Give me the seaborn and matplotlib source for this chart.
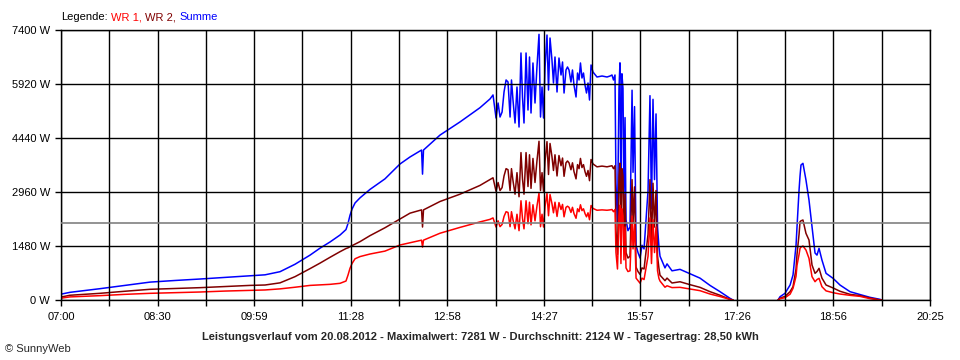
import numpy as np
import pandas as pd
import matplotlib
matplotlib.use("Agg")
import matplotlib.pyplot as plt
import seaborn as sns

# time in minutes after 07:00
minutes = [0, 8.3, 36.1, 59.3, 82.4, 105.6, 128.8, 151.9, 175.1, 189.0, 202.9, 216.8,
           230.7, 239.9, 249.2, 258.5, 264.0, 265.9, 267.7, 269.6, 272.4, 277.0, 286.2,
           300.1, 314.0, 323.3, 334.0, 334.9, 335.8, 351.1, 369.6, 388.1, 397.4, 400.2,
           403.0, 404.9, 406.7, 408.6, 410.4, 412.3, 414.1, 416.0, 417.3, 418.7, 420.6,
           422.4, 424.3, 426.1, 427.5, 428.9, 430.8, 432.6, 434.0, 435.4, 437.2, 439.1,
           440.9, 442.8, 444.2, 445.6, 447.0, 448.4, 450.2, 451.6, 453.0, 454.8, 456.2,
           457.6, 459.5, 461.3, 463.2, 464.6, 466.0, 467.8, 469.2, 470.6, 472.4, 473.8,
           475.2, 477.1, 478.5, 479.9, 481.2, 482.6, 484.0, 485.4, 486.8, 488.2, 489.6,
           491.0, 492.8, 496.5, 501.2, 505.8, 508.6, 510.4, 511.8, 513.2,
           514.1, 515.5, 516.9, 517.8, 518.7, 519.6, 520.6, 521.5, 522.5, 523.4, 525.2,
           527.1, 529.0, 529.9, 531.3, 532.7, 534.5, 536.4, 538.2, 540.1, 541.9, 543.8,
           545.6, 547.0, 548.4, 549.8, 551.2, 552.6, 553.9, 554.9, 559.5, 561.4, 566.0,
           573.4, 582.7, 591.9, 601.2, 610.5, 619.7, 622.5,
           664.2, 666.1, 670.7, 675.4, 678.1, 680.9, 681.8, 683.7, 684.6, 685.5, 687.3,
           690.1, 692.9, 695.7, 698.5, 700.3, 702.2, 704.9, 708.7, 715.2, 721.6, 730.9,
           740.1, 749.4, 758.7, 760.5]

summe = [160, 210, 310, 400, 490, 535, 575, 620, 666, 690, 776, 980,
         1230, 1420, 1590, 1781, 1930, 2100, 2320, 2490, 2660, 2800, 3030,
         3320, 3727, 3920, 4110, 3450, 4110, 4520, 4880, 5270, 5510, 5620,
         4988, 5399, 5015, 5152, 5701, 6030, 5975, 5015, 6030, 5481, 4851,
         5838, 4741, 6770, 5564, 4851, 6770, 5207, 6660, 5125, 6496, 5399,
         6386, 7281, 5015, 5838, 4988, 6386, 7262, 5755, 7180, 6578, 5947,
         6660, 5701, 6632, 6167, 6523, 5673, 6304, 6386, 6304, 5975, 6304,
         5893, 5564, 6221, 6030, 6496, 6084, 6221, 5893, 5673, 5947, 5481,
         6441, 6249, 6112, 6139, 6112, 6139, 6167, 6030, 6167,
         3200, 2100, 5800, 6500, 2500, 6200, 5800, 2700, 5000, 2200, 1900,
         2000, 5750, 3500, 5300, 1500, 1300, 1150, 1500, 1400, 2200, 3000,
         5600, 2500, 5500, 3300, 5100, 2000, 1460, 1200, 880, 990, 800,
         840, 720, 600, 400, 228, 46, 0,
         0, 91, 183, 411, 685, 1500, 2000, 3015, 3400, 3700, 3746,
         3289, 2741, 2010, 1288, 1230, 1416, 1096, 731, 594, 411, 228,
         150, 73, 18, 0]

wr2 = [80, 130, 183, 240, 293, 315, 338, 370, 400, 411, 470, 640,
       860, 1010, 1170, 1325, 1410, 1430, 1461, 1490, 1530, 1600, 1763,
       1980, 2220, 2380, 2470, 2000, 2470, 2700, 2900, 3140, 3300, 3350,
       2980, 3220, 3000, 3080, 3400, 3600, 3570, 3000, 3600, 3270, 2900,
       3490, 2830, 4040, 3320, 2900, 4040, 3110, 3980, 3060, 3880, 3220,
       3810, 4350, 3000, 3490, 2980, 3810, 4340, 3440, 4290, 3930, 3550,
       3980, 3400, 3960, 3680, 3890, 3390, 3760, 3810, 3760, 3570, 3760,
       3520, 3320, 3710, 3600, 3880, 3630, 3710, 3520, 3390, 3550, 3270,
       3850, 3730, 3650, 3670, 3650, 3670, 3680, 3600, 3680,
       1900, 1250, 3400, 3750, 1500, 3600, 3400, 1600, 2900, 1300, 1150,
       1200, 3300, 2100, 3100, 900, 780, 700, 880, 850, 1300, 1800,
       3300, 1500, 3200, 2000, 3000, 1200, 870, 680, 530, 600, 466,
       500, 420, 347, 228, 130, 20, 0,
       0, 50, 100, 230, 365, 850, 1250, 1800, 2147, 2170, 2193,
       1827, 1644, 959, 731, 780, 868, 600, 411, 330, 240, 155,
       120, 55, 0, 0]

wr1 = [50, 85, 119, 155, 183, 200, 219, 245, 265, 275, 305, 350,
       400, 415, 429, 457, 520, 685, 868, 1000, 1130, 1190, 1260,
       1340, 1507, 1570, 1640, 1450, 1640, 1830, 1990, 2140, 2210, 2250,
       2000, 2170, 2010, 2070, 2290, 2420, 2400, 2010, 2420, 2200, 1950,
       2350, 1900, 2720, 2240, 1950, 2720, 2090, 2680, 2060, 2610, 2170,
       2570, 2930, 2010, 2350, 2000, 2570, 2920, 2310, 2890, 2640, 2390,
       2680, 2290, 2670, 2480, 2620, 2280, 2540, 2570, 2540, 2400, 2540,
       2370, 2240, 2500, 2420, 2610, 2450, 2500, 2370, 2280, 2390, 2200,
       2590, 2510, 2460, 2470, 2460, 2470, 2480, 2420, 2480,
       1300, 850, 2300, 2600, 1000, 2500, 2300, 1100, 2000, 880, 780,
       800, 2300, 1400, 2100, 600, 530, 460, 600, 560, 880, 1200,
       2250, 1000, 2200, 1300, 2000, 800, 590, 520, 350, 390, 340,
       347, 300, 256, 164, 95, 15, 0,
       0, 35, 64, 160, 320, 650, 950, 1250, 1416, 1450, 1480,
       1370, 1142, 640, 502, 560, 594, 365, 250, 200, 164, 128,
       100, 37, 0, 0]

x_labels = ["07:00", "08:30", "09:59", "11:28", "12:58", "14:27", "15:57", "17:26", "18:56", "20:25"]
y_values = [0, 1480, 2960, 4440, 5920, 7400]
average_w = 2124
title = ("Leistungsverlauf vom 20.08.2012 - Maximalwert: 7281 W - Durchschnitt: 2124 W"
         " - Tagesertrag: 28,50 kWh")

sns.set_theme(style="white")
plt.rcParams["font.family"] = ["Liberation Sans", "DejaVu Sans"]
plt.rcParams["font.size"] = 8

n = len(minutes)
df = pd.DataFrame({
    "t": minutes * 3,
    "W": summe + wr2 + wr1,
    "Serie": ["Summe"] * n + ["WR 2"] * n + ["WR 1"] * n,
})
df["Abschnitt"] = np.where(df["t"] < 640, 0, 1)

fig = plt.figure(figsize=(9.6, 3.6), dpi=100)
fig.patch.set_facecolor("white")
ax = fig.add_axes([61 / 960, 60 / 360, 869 / 960, 270 / 360])
ax.set_facecolor("white")

sns.lineplot(data=df, x="t", y="W", hue="Serie", units="Abschnitt", estimator=None,
             hue_order=["Summe", "WR 2", "WR 1"],
             palette={"Summe": "#0000ff", "WR 2": "#800000", "WR 1": "#ff0000"},
             lw=1.1, legend=False, sort=False, ax=ax)

ax.set_xlim(0, 805)
ax.set_ylim(0, 7400)
xt = np.linspace(0, 805, 19)
ax.set_xticks(xt)
lab = []
for i in range(19):
    lab.append(x_labels[i // 2] if i % 2 == 0 else "")
ax.set_xticklabels(lab)
ax.set_yticks(y_values)
ax.set_yticklabels([f"{v} W" for v in y_values])
ax.set_xlabel("")
ax.set_ylabel("")
ax.tick_params(axis="both", which="major", length=4, width=1, color="black",
               direction="out", labelsize=8, labelcolor="black")
ax.tick_params(axis="x", pad=5)
ax.tick_params(axis="y", pad=4)
ax.tick_params(bottom=True, left=True)

ax.set_axisbelow(False)
ax.grid(True, color="black", lw=1)
ax.axhline(average_w, color="#808080", lw=1.2, zorder=2.6)
for s in ax.spines.values():
    s.set_color("black")
    s.set_linewidth(1)
    s.set_visible(True)

fig.text(0.5, 1 - 337 / 360, title, ha="center", va="center", fontsize=8, fontweight="bold")
fig.text(5 / 960, 1 - 349 / 360, "\u00a9 SunnyWeb", ha="left", va="center", fontsize=8)

t0 = fig.text(61 / 960, 1 - 17 / 360, "Legende:", ha="left", va="center", fontsize=8, color="black")
prev = t0
for txt, col in [("WR 1,", "#ff0000"), ("WR 2,", "#800000"), ("Summe", "#0000ff")]:
    prev = ax.annotate(txt, xy=(1, 0), xycoords=prev, xytext=(2.5, 0), textcoords="offset points",
                       ha="left", va="bottom", fontsize=8, color=col, annotation_clip=False)

fig.savefig("out.png", dpi=100, facecolor="white")
